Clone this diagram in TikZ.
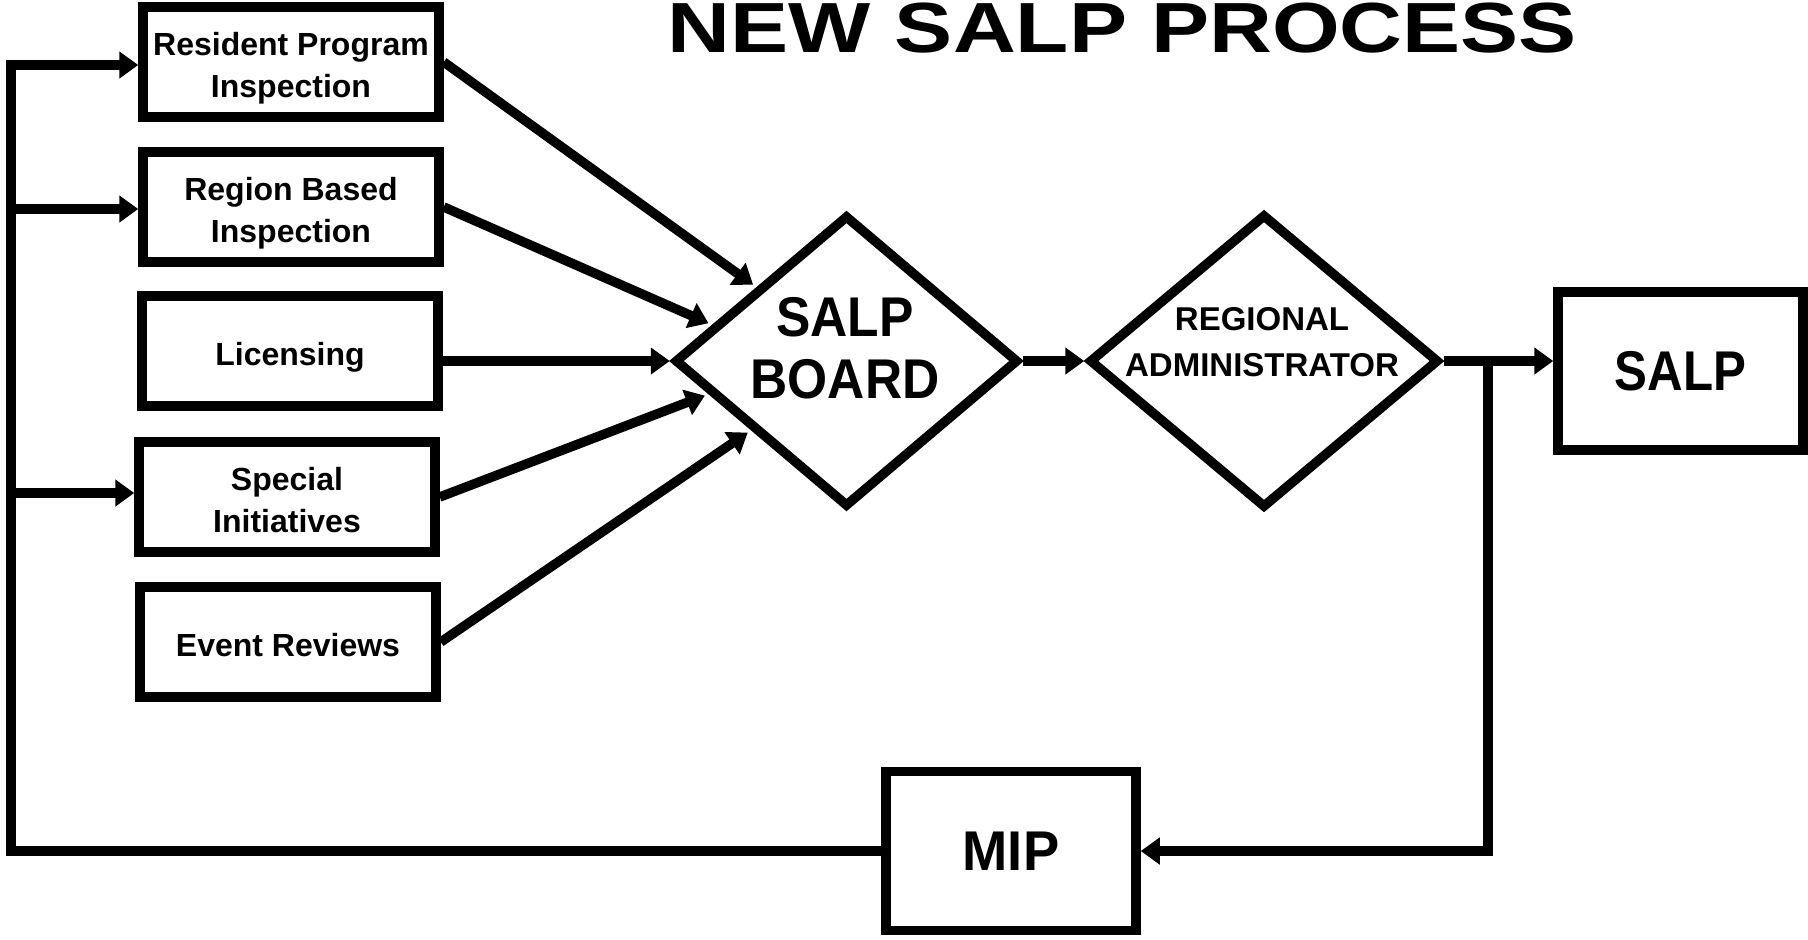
\documentclass[tikz,border=0pt]{standalone}
\usepackage{fontspec}
\setmainfont{Liberation Sans}
\usetikzlibrary{arrows.meta,shapes.geometric,calc}
\newcommand\dnlines[1]{\raisebox{-3pt}[\height][\depth]{\begin{tabular}{@{}c@{}}#1\end{tabular}}}
\begin{document}
\begin{tikzpicture}[x=0.5pt,y=-0.5pt,
  line width=4.75pt,
  arr/.style={-{Triangle[length=9.5pt,width=13pt]}},
  box/.style={draw, minimum width=148pt, minimum height=55pt, inner sep=0pt,
    font=\fontsize{16}{20.75}\selectfont\bfseries},
  bigbox/.style={draw, minimum width=123pt, minimum height=79pt, inner sep=0pt,
    font=\fontsize{28}{31}\selectfont\bfseries},
  dia/.style={draw, diamond, inner sep=0pt},
  lbl/.style={inner sep=0pt},
]
\useasboundingbox (0,0) rectangle (1808,939);

\node[anchor=base west, inner sep=0pt, font=\fontsize{35.5}{40}\selectfont\bfseries] (title) at (663,52) {\scalebox{1.226}[1]{NEW SALP PROCESS}};

\node[box] (b1) at (291,62) {\dnlines{Resident Program\\Inspection}};
\node[box] (b2) at (291,207) {\dnlines{Region Based\\Inspection}};
\node[box] (b3) at (290,351) {\dnlines{Licensing}};
\node[box] (b4) at (287,497) {\dnlines{Special\\Initiatives}};
\node[box] (b5) at (288,642) {\dnlines{Event Reviews}};

\node[dia, minimum width=172pt, minimum height=146pt] (board) at (846.5,361) {};
\node[lbl, font=\fontsize{28}{31}\selectfont\bfseries] (boardtxt) at (845,355)
  {\scalebox{0.92}[1]{\begin{tabular}{@{}c@{}}SALP\\BOARD\end{tabular}}};

\node[dia, minimum width=175pt, minimum height=147pt] (ra) at (1264,361) {};
\node[lbl, font=\fontsize{16.5}{23}\selectfont\bfseries] (ratxt) at (1262,344)
  {\begin{tabular}{@{}c@{}}REGIONAL\\ADMINISTRATOR\end{tabular}};

\node[bigbox, minimum width=122.5pt] (salp) at (1680.5,371) {\scalebox{0.88}[1]{SALP}};
\node[bigbox, minimum width=125pt, minimum height=79.5pt] (mip) at (1011,851) {\scalebox{0.97}[1]{MIP}};

% feedback loop on the left
\coordinate (c1) at (11,65);
\coordinate (c2) at (11,209);
\coordinate (c4) at (11,493);
\draw[arr] (mip.west) -| (c1) -- (c1 -| b1.west);
\draw[arr] (c2) -- (c2 -| b2.west);
\draw[arr] (c4) -- (c4 -| b4.west);

% inputs to the board
\draw[arr, shorten >=2pt] (b1.east) -- ($(board.west)!0.49!(board.north)$);
\draw[arr, shorten >=2pt] (b2.east) -- ($(board.west)!0.24!(board.north)$);
\draw[arr] (b3.east |- board.west) -- (board.west);
\draw[arr, shorten >=2pt] (b4.east) -- ($(board.west)!0.22!(board.south)$);
\draw[arr, shorten >=2pt] (b5.east) -- ($(board.west)!0.46!(board.south)$);

% main flow
\draw[arr] (board.east) -- (ra.west);
\draw[arr] (ra.east) -- (ra.east -| salp.west);
\coordinate (jx) at (1488,0);
\draw[arr] (ra.east -| jx) |- (mip.east);
\end{tikzpicture}
\end{document}
